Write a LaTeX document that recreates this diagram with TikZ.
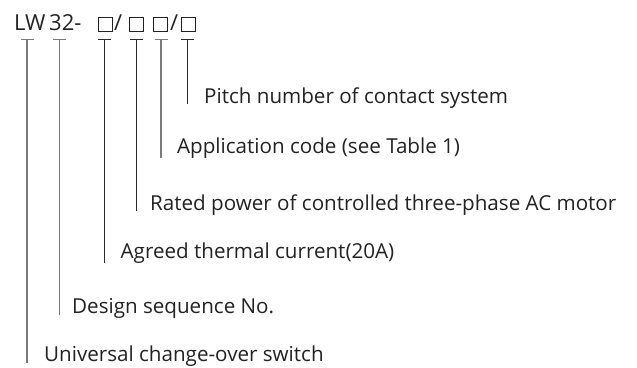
\documentclass[tikz,border=0pt]{standalone}
\usepackage{fontspec}
\setmainfont{Open Sans}
\definecolor{txt}{HTML}{222222}
\definecolor{lgray}{HTML}{7A7A7A}
\definecolor{ldark}{HTML}{2A2A2A}
\begin{document}
\begin{tikzpicture}[x=1pt,y=-1pt,
  lbl/.style={anchor=base west,inner sep=0pt,text=txt,font=\fontsize{20.6}{22}\selectfont},
  ttl/.style={anchor=base west,inner sep=0pt,text=txt,font=\fontsize{22}{24}\selectfont},
  sq/.style={draw=txt,line width=1.2pt,minimum width=14pt,minimum height=14pt,inner sep=0pt,anchor=center},
  gline/.style={draw=lgray,line width=1.3pt},
  dline/.style={draw=ldark,line width=0.9pt}]
\useasboundingbox (0,0) rectangle (637,367);
% title
\node[ttl] (lw) at (14,30.7) {LW};
\node[ttl] (n32) at (49,30.7) {32-};
\node[sq] (b1) at (105.5,24.5) {};
\node[ttl] (s1) at (114,30.7) {/};
\node[sq] (b2) at (136.5,24.5) {};
\node[sq] (b3) at (160.5,24.5) {};
\node[ttl] (s2) at (170,30.7) {/};
\node[sq] (b4) at (188.5,24.5) {};
% labels
\node[lbl] (l6) at (204,103) {Pitch number of contact system};
\node[lbl] (l5) at (177,153.5) {Application code (see Table 1)};
\node[lbl] (l4) at (150,210) {Rated power of controlled three-phase AC motor};
\node[lbl] (l3) at (120.5,258.5) {Agreed thermal current(20A)};
\node[lbl] (l2) at (72,313) {Design sequence No.};
\node[lbl] (l1) at (44,361.5) {Universal change-over switch};
% T connectors
\coordinate (t1) at (27,39.5); \coordinate (e1) at (27,363);
\coordinate (t2) at (59.5,39.5); \coordinate (e2) at (59.5,315);
\coordinate (t3) at (104.5,39.5);  \coordinate (e3) at (104.5,263);
\coordinate (t4) at (136.5,39.5);  \coordinate (e4) at (136.5,211);
\coordinate (t5) at (161,39.5);  \coordinate (e5) at (161,158);
\coordinate (t6) at (187.5,39.5);  \coordinate (e6) at (187.5,104);
\draw[gline] ([xshift=-6.5pt]t1) -- ([xshift=6.5pt]t1) (t1) -- (e1);
\draw[gline] ([xshift=-6.5pt]t2) -- ([xshift=6.5pt]t2) (t2) -- (e2);
\draw[dline] ([xshift=-6.5pt]t3) -- ([xshift=6.5pt]t3) (t3) -- (e3);
\draw[dline] ([xshift=-6.5pt]t4) -- ([xshift=6.5pt]t4) (t4) -- (e4);
\draw[gline] ([xshift=-6.5pt]t5) -- ([xshift=6.5pt]t5) (t5) -- (e5);
\draw[dline] ([xshift=-6.5pt]t6) -- ([xshift=6.5pt]t6) (t6) -- (e6);
\end{tikzpicture}
\end{document}
